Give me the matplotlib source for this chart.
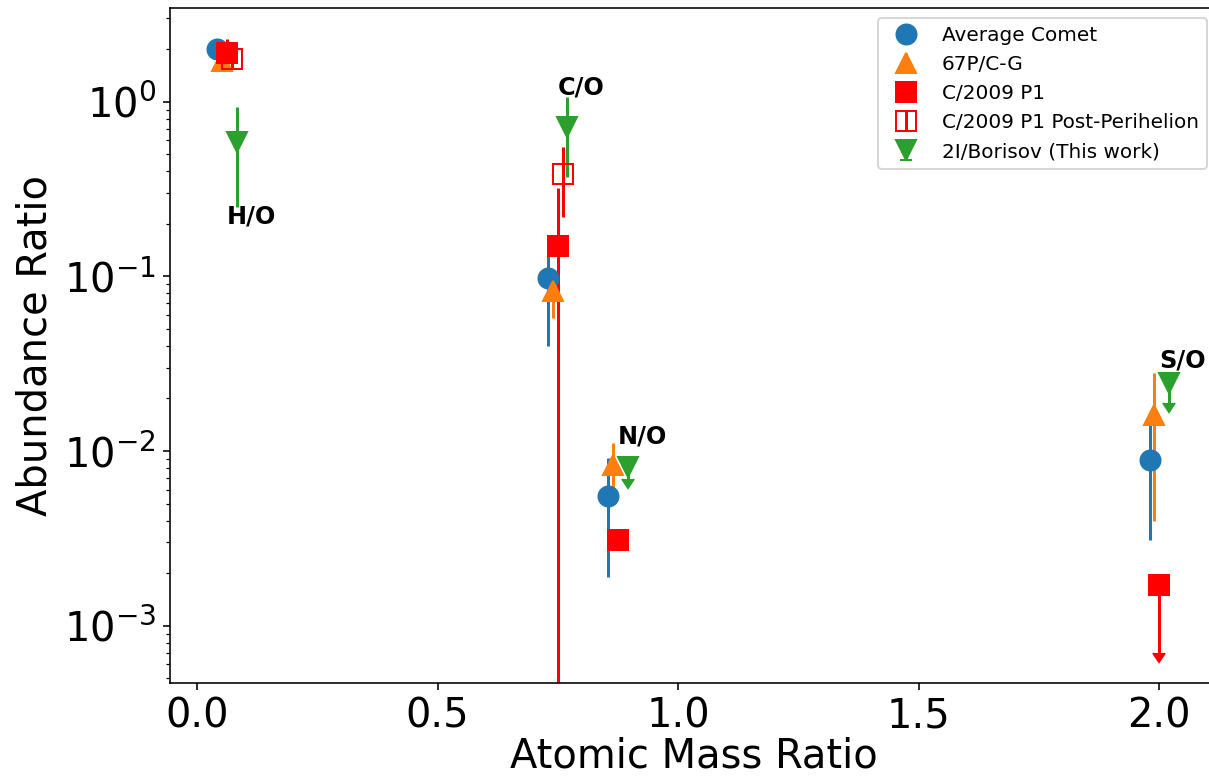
import matplotlib
matplotlib.use("Agg")
import matplotlib.pyplot as plt

# atomic mass ratio of each element pair (X / O)
labels = ["H/O", "C/O", "N/O", "S/O"]
mass_ratio = [0.0625, 0.75, 0.875, 2.0]

# Average comet
avg_val = [2.0, 0.098, 0.0055, 0.0089]
avg_err = [0.0, 0.058, 0.0036, 0.0058]

# 67P/C-G
p67_val = [1.72, 0.082, 0.0083, 0.016]
p67_err = [0.0, 0.024, 0.0028, 0.012]

# C/2009 P1
p1_val = [1.9, 0.15, 0.0031, 0.0017]
p1_err = [0.4, 0.17, 0.0, 0.001]
p1_uplim = [False, False, False, True]

# C/2009 P1 post-perihelion (only H/O and C/O)
post_x = [0.0625, 0.75]
post_val = [1.75, 0.385]
post_err = [0.2, 0.165]

# 2I/Borisov (this work)
bor_val = [0.59, 0.72, 0.0081, 0.0245]
bor_err = [0.34, 0.35, 0.0012, 0.0057]
bor_uplim = [False, False, True, True]

# text label positions
label_y = [0.2, 1.1, 0.011, 0.030]

fig = plt.figure(figsize=(1209 / 144, 780 / 144), dpi=144)
ax = fig.add_axes([170 / 1209, 1 - 683 / 780, 1047 / 1209, 675 / 780])

ms = 10
ax.errorbar([x - 0.02 for x in mass_ratio], avg_val, yerr=avg_err,
            fmt="o", color="#1f77b4", ms=ms, label="Average Comet")
ax.errorbar([x - 0.01 for x in mass_ratio], p67_val, yerr=p67_err,
            fmt="^", color="#ff7f0e", ms=ms, label="67P/C-G")
ax.errorbar(mass_ratio, p1_val, yerr=p1_err, uplims=p1_uplim,
            fmt="s", color="red", ms=ms, label="C/2009 P1")
ax.errorbar([x + 0.01 for x in post_x], post_val, yerr=post_err,
            fmt="s", color="red", mfc="none", ms=ms,
            label="C/2009 P1 Post-Perihelion")
ax.errorbar([x + 0.02 for x in mass_ratio], bor_val, yerr=bor_err,
            uplims=bor_uplim, fmt="v", color="#2ca02c", ms=ms,
            label="2I/Borisov (This work)")

for x, y, t in zip(mass_ratio, label_y, labels):
    ax.text(x, y, t, fontsize=12, fontweight="bold")

ax.set_yscale("log")
ax.set_xlim(-0.056, 2.12)
ax.set_ylim(4.7e-4, 3.44)
ax.set_xlabel("Atomic Mass Ratio", fontsize=20, labelpad=0)
ax.set_ylabel("Abundance Ratio", fontsize=20)
ax.tick_params(labelsize=20)
ax.legend(loc="upper right", fontsize=10)

fig.savefig("out.png", dpi=144)
